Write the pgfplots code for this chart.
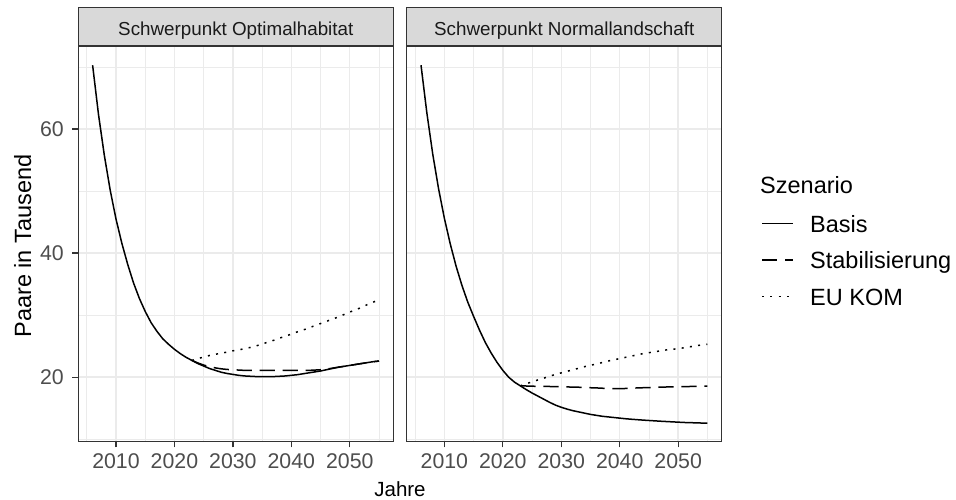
\documentclass[border=0pt]{standalone}
\usepackage{fontspec}
\setmainfont{Liberation Sans}
\usepackage{pgfplots}
\usepackage{pgfplotstable}
\pgfplotsset{compat=1.18}
\definecolor{gridc}{HTML}{EBEBEB}
\definecolor{framec}{HTML}{333333}
\definecolor{stripfill}{HTML}{D9D9D9}
\definecolor{ticktext}{HTML}{4D4D4D}
\definecolor{striptext}{HTML}{1A1A1A}

\pgfplotstableread{
year basis stab eu
2006 70.3 nan nan
2007 62.4 nan nan
2008 55.8 nan nan
2009 50.2 nan nan
2010 45.5 nan nan
2011 41.6 nan nan
2012 38.2 nan nan
2013 35.2 nan nan
2014 32.7 nan nan
2015 30.6 nan nan
2016 28.8 nan nan
2017 27.4 nan nan
2018 26.2 nan nan
2019 25.3 nan nan
2020 24.5 nan nan
2021 23.8 nan nan
2022 23.2 nan nan
2023 22.7 22.7 22.7
2024 22.2 22.3 23.0
2025 21.8 21.95 23.25
2026 21.4 21.7 23.5
2027 21.1 21.5 23.7
2028 20.8 21.35 23.85
2029 20.6 21.25 24.05
2030 20.45 21.2 24.25
2031 20.3 21.15 24.4
2032 20.2 21.1 24.6
2033 20.15 21.1 24.8
2034 20.1 21.1 25.05
2035 20.1 21.1 25.35
2036 20.1 21.1 25.65
2037 20.1 21.1 25.95
2038 20.15 21.1 26.3
2039 20.2 21.1 26.6
2040 20.3 21.1 26.95
2041 20.4 21.1 27.3
2042 20.55 21.1 27.6
2043 20.7 21.1 27.95
2044 20.85 21.15 28.3
2045 21.0 21.2 28.65
2046 21.2 21.3 29.0
2047 21.4 21.45 29.35
2048 21.6 21.6 29.7
2049 21.75 21.75 30.1
2050 21.9 21.9 30.5
2051 22.05 22.05 30.85
2052 22.2 22.2 31.25
2053 22.35 22.35 31.7
2054 22.5 22.5 32.1
2055 22.6 22.6 32.45
}\leftdata

\pgfplotstableread{
year basis stab eu
2006 70.3 nan nan
2007 62.6 nan nan
2008 56.0 nan nan
2009 50.4 nan nan
2010 45.6 nan nan
2011 41.5 nan nan
2012 37.9 nan nan
2013 34.8 nan nan
2014 32.1 nan nan
2015 29.8 nan nan
2016 27.6 nan nan
2017 25.6 nan nan
2018 23.9 nan nan
2019 22.4 nan nan
2020 21.1 nan nan
2021 20.0 nan nan
2022 19.2 nan nan
2023 18.6 18.6 18.6
2024 18.0 18.58 18.95
2025 17.45 18.55 19.25
2026 16.95 18.52 19.55
2027 16.45 18.5 19.85
2028 15.95 18.5 20.15
2029 15.5 18.48 20.45
2030 15.15 18.45 20.7
2031 14.85 18.43 20.95
2032 14.6 18.4 21.2
2033 14.4 18.38 21.45
2034 14.2 18.35 21.7
2035 14.0 18.3 21.9
2036 13.85 18.27 22.15
2037 13.7 18.22 22.35
2038 13.6 18.18 22.6
2039 13.5 18.15 22.8
2040 13.4 18.15 23.0
2041 13.3 18.18 23.2
2042 13.22 18.22 23.4
2043 13.15 18.27 23.6
2044 13.08 18.3 23.8
2045 13.02 18.33 23.95
2046 12.96 18.36 24.1
2047 12.9 18.39 24.25
2048 12.85 18.42 24.4
2049 12.8 18.44 24.5
2050 12.75 18.46 24.6
2051 12.7 18.48 24.75
2052 12.67 18.5 24.9
2053 12.64 18.52 25.05
2054 12.61 18.54 25.2
2055 12.58 18.55 25.3
}\rightdata

\tikzset{
  basis/.style={black, line width=1.5pt, line join=round},
  stab/.style={black, line width=1.5pt, dash pattern=on 15.3pt off 7.7pt},
  eukom/.style={black, line width=1.5pt, dash pattern=on 2pt off 6.3pt},
}

\pgfplotsset{
  panel/.style={
    scale only axis, width=315pt, height=395.7pt,
    xmin=2003.55, xmax=2057.45, ymin=9.6, ymax=73.4,
    xtick={2010,2020,2030,2040,2050},
    xticklabels={2010,2020,2030,2040,2050},
    minor xtick={2005,2015,2025,2035,2045,2055},
    ytick={20,40,60},
    minor ytick={10,30,50,70},
    grid=both,
    major grid style={draw=gridc, line width=1.4pt},
    minor grid style={draw=gridc, line width=0.75pt},
    axis line style={draw=framec, line width=1.3pt},
    tick align=outside, major tick length=5.8pt, minor tick length=0pt,
    tick style={draw=framec, line width=1.3pt},
    tick pos=left,
    tick label style={font=\fontsize{21.3}{21.3}\selectfont, text=ticktext, inner sep=0pt},
    xticklabel style={anchor=north, yshift=-6.3pt},
    yticklabel style={anchor=east, xshift=-8.6pt},
  },
}

\begin{document}
\begin{tikzpicture}[x=1pt,y=1pt]
\path[use as bounding box] (0,0) rectangle (956,500);

\begin{axis}[panel, at={(78.3pt,58.3pt)}, anchor=south west,
  yticklabels={20,40,60}]
  \addplot[basis] table[x=year,y=basis]{\leftdata};
  \addplot[stab] table[x=year,y=stab]{\leftdata};
  \addplot[eukom] table[x=year,y=eu]{\leftdata};
\end{axis}

\begin{axis}[panel, at={(406.7pt,58.3pt)}, anchor=south west,
  yticklabels={}, ytick style={draw=none}]
  \addplot[basis] table[x=year,y=basis]{\rightdata};
  \addplot[stab] table[x=year,y=stab]{\rightdata};
  \addplot[eukom] table[x=year,y=eu]{\rightdata};
\end{axis}

% strips
\draw[draw=framec, fill=stripfill, line width=1.3pt] (78.3,454) rectangle (393.3,492.5);
\draw[draw=framec, fill=stripfill, line width=1.3pt] (406.7,454) rectangle (721.7,492.5);
\node[anchor=base, inner sep=0pt, text=striptext, font=\fontsize{18.8}{18.8}\selectfont] at (235.8,464.3) {Schwerpunkt Optimalhabitat};
\node[anchor=base, inner sep=0pt, text=striptext, font=\fontsize{18.8}{18.8}\selectfont] at (564.2,464.3) {Schwerpunkt Normallandschaft};

% axis titles
\node[anchor=base, inner sep=0pt, font=\fontsize{20.5}{20.5}\selectfont] at (400,3) {Jahre};
\node[rotate=90, anchor=base, inner sep=0pt, font=\fontsize{23.5}{23.5}\selectfont] at (31,254) {Paare in Tausend};

% legend
\node[anchor=base west, inner sep=0pt, font=\fontsize{23.5}{23.5}\selectfont] at (760,306.7) {Szenario};
\draw[basis] (762,276.7) -- (793,276.7);
\draw[stab] (762,240) -- (793,240);
\draw[eukom] (762,203.3) -- (793,203.3);
\node[anchor=base west, inner sep=0pt, font=\fontsize{23.5}{23.5}\selectfont] at (810,267.7) {Basis};
\node[anchor=base west, inner sep=0pt, font=\fontsize{23.5}{23.5}\selectfont] at (810,231) {Stabilisierung};
\node[anchor=base west, inner sep=0pt, font=\fontsize{23.5}{23.5}\selectfont] at (810,194.3) {EU KOM};
\end{tikzpicture}
\end{document}
